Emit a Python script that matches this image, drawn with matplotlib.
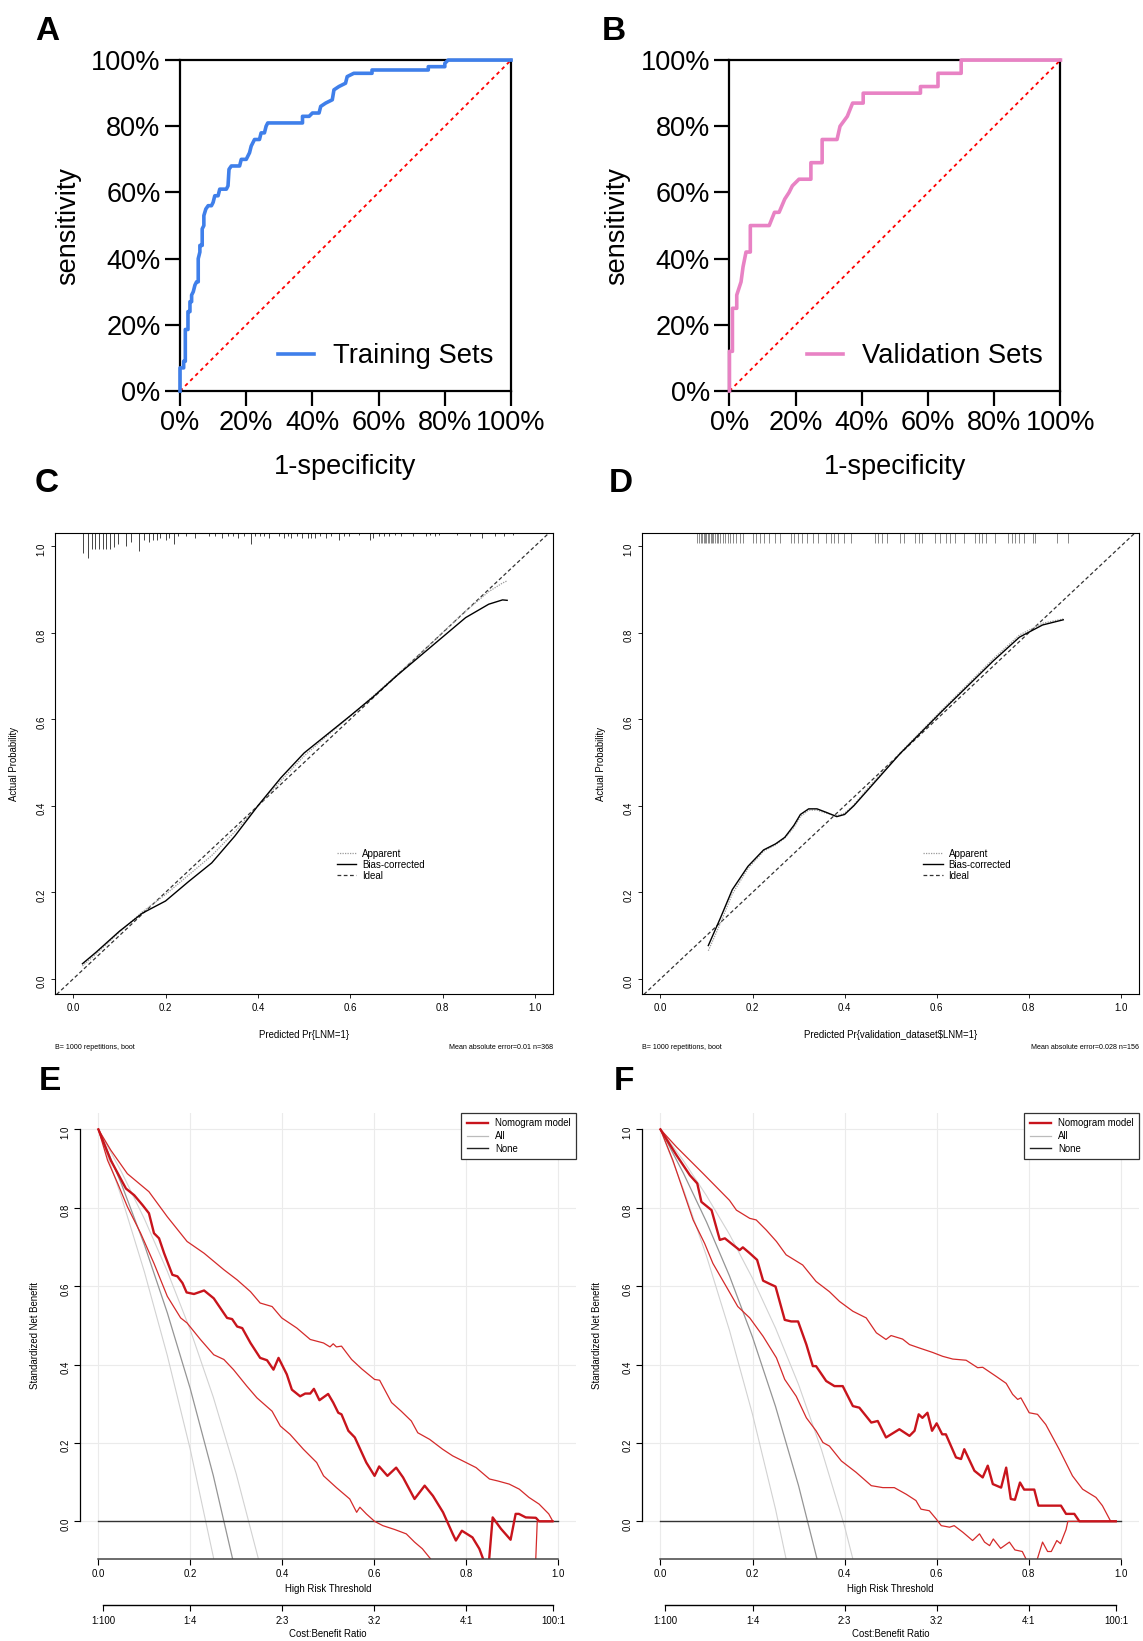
import numpy as np
import matplotlib.pyplot as plt
from matplotlib.lines import Line2D

plt.rcParams['font.family'] = ['Liberation Sans', 'DejaVu Sans']

# ---------------- ROC data (1-specificity, sensitivity) ----------------
roc_a_fpr = [0, 0, 0.011, 0.011, 0.016, 0.016, 0.024, 0.024, 0.03, 0.03, 0.035, 0.035, 0.04, 0.045, 0.05,
             0.055, 0.055, 0.06, 0.06, 0.067, 0.067, 0.072, 0.072, 0.078, 0.085, 0.095, 0.1, 0.105, 0.115, 0.12,
             0.14, 0.145, 0.148, 0.155, 0.18, 0.185, 0.2, 0.21, 0.215, 0.225, 0.24, 0.245, 0.255, 0.26, 0.265,
             0.37, 0.37, 0.39, 0.4, 0.42, 0.425, 0.44, 0.46, 0.465, 0.48, 0.5, 0.505, 0.525, 0.58, 0.58,
             0.75, 0.75, 0.8, 0.8, 0.81, 1.0]
roc_a_tpr = [0, 0.07, 0.07, 0.09, 0.09, 0.186, 0.186, 0.24, 0.24, 0.27, 0.27, 0.29, 0.30, 0.32, 0.33,
             0.33, 0.40, 0.42, 0.44, 0.44, 0.49, 0.50, 0.53, 0.55, 0.56, 0.56, 0.57, 0.59, 0.59, 0.61,
             0.61, 0.62, 0.67, 0.68, 0.68, 0.70, 0.70, 0.72, 0.74, 0.76, 0.76, 0.78, 0.78, 0.80, 0.81,
             0.81, 0.83, 0.83, 0.84, 0.84, 0.86, 0.87, 0.88, 0.91, 0.92, 0.93, 0.95, 0.96, 0.96, 0.97,
             0.97, 0.98, 0.98, 0.99, 1.0, 1.0]
roc_b_fpr = [0, 0, 0.009, 0.009, 0.022, 0.022, 0.035, 0.041, 0.05, 0.063, 0.063, 0.12, 0.136, 0.15, 0.167,
             0.18, 0.19, 0.21, 0.246, 0.246, 0.28, 0.28, 0.325, 0.334, 0.356, 0.372, 0.404, 0.404, 0.577, 0.577,
             0.63, 0.63, 0.70, 0.70, 1.0]
roc_b_tpr = [0, 0.12, 0.12, 0.25, 0.25, 0.29, 0.33, 0.375, 0.42, 0.42, 0.50, 0.50, 0.54, 0.54, 0.58,
             0.60, 0.62, 0.64, 0.64, 0.69, 0.69, 0.76, 0.76, 0.80, 0.83, 0.87, 0.87, 0.90, 0.90, 0.92,
             0.92, 0.96, 0.96, 1.0, 1.0]
pct_ticks = [0, 0.2, 0.4, 0.6, 0.8, 1.0]
pct_labels = ['0%', '20%', '40%', '60%', '80%', '100%']

# ---------------- calibration data ----------------
cal_c_x = [0.02, 0.05, 0.10, 0.15, 0.20, 0.25, 0.30, 0.35, 0.40, 0.45, 0.50, 0.55, 0.60, 0.65, 0.70,
           0.75, 0.80, 0.85, 0.90, 0.93, 0.94]
cal_c_bias = [0.035, 0.062, 0.11, 0.152, 0.18, 0.225, 0.268, 0.33, 0.40, 0.465, 0.522, 0.565, 0.608, 0.652,
              0.70, 0.745, 0.79, 0.835, 0.866, 0.876, 0.875]
cal_c_app = [0.03, 0.058, 0.108, 0.155, 0.195, 0.24, 0.285, 0.34, 0.40, 0.458, 0.515, 0.562, 0.607, 0.654,
             0.702, 0.75, 0.80, 0.85, 0.895, 0.915, 0.92]
rug_c_x = [0.022, 0.031, 0.041, 0.048, 0.056, 0.064, 0.072, 0.080, 0.088, 0.098, 0.114, 0.126, 0.143, 0.153,
           0.165, 0.173, 0.181, 0.189, 0.201, 0.208, 0.219, 0.228, 0.244, 0.264, 0.295, 0.307, 0.323, 0.335,
           0.346, 0.358, 0.370, 0.386, 0.394, 0.405, 0.413, 0.425, 0.445, 0.457, 0.465, 0.472, 0.484, 0.496,
           0.508, 0.516, 0.524, 0.535, 0.547, 0.559, 0.575, 0.587, 0.598, 0.618, 0.642, 0.650, 0.662, 0.673,
           0.685, 0.697, 0.709, 0.736, 0.764, 0.772, 0.784, 0.792, 0.831, 0.859, 0.886, 0.914, 0.933, 0.953]
rug_c_n = [11, 14, 9, 9, 9, 9, 9, 9, 8, 6, 7, 5, 10, 4, 5, 4, 4, 3, 4, 3, 6, 2, 2, 3, 2, 2, 3, 2, 2, 3,
           2, 6, 2, 2, 2, 3, 2, 3, 2, 3, 2, 3, 3, 3, 3, 2, 3, 2, 4, 2, 2, 1, 4, 3, 2, 2, 2, 1, 2, 2,
           2, 1, 2, 1, 1, 2, 3, 2, 2, 1]

cal_d_x = [0.104, 0.13, 0.156, 0.19, 0.224, 0.25, 0.27, 0.29, 0.304, 0.322, 0.34, 0.36, 0.383, 0.40, 0.42,
           0.45, 0.52, 0.61, 0.723, 0.78, 0.83, 0.875]
cal_d_bias = [0.077, 0.14, 0.206, 0.26, 0.298, 0.312, 0.327, 0.355, 0.38, 0.393, 0.393, 0.385, 0.375, 0.38,
              0.40, 0.436, 0.52, 0.617, 0.735, 0.79, 0.818, 0.83]
cal_d_app = [0.065, 0.128, 0.196, 0.255, 0.295, 0.31, 0.325, 0.35, 0.375, 0.39, 0.39, 0.383, 0.377, 0.383,
             0.402, 0.44, 0.522, 0.62, 0.74, 0.795, 0.822, 0.832]
rug_d_x = [0.080, 0.084, 0.088, 0.091, 0.094, 0.097, 0.100, 0.103, 0.106, 0.109, 0.112, 0.115, 0.118, 0.122,
           0.126, 0.130, 0.135, 0.140, 0.146, 0.152, 0.158, 0.165, 0.172, 0.180, 0.200, 0.208, 0.216, 0.224,
           0.236, 0.248, 0.260, 0.283, 0.291, 0.299, 0.307, 0.319, 0.331, 0.343, 0.359, 0.370, 0.378, 0.386,
           0.398, 0.414, 0.466, 0.473, 0.481, 0.493, 0.521, 0.529, 0.553, 0.561, 0.569, 0.596, 0.608, 0.620,
           0.628, 0.640, 0.660, 0.684, 0.692, 0.699, 0.707, 0.727, 0.755, 0.763, 0.771, 0.779, 0.790, 0.810,
           0.814, 0.862, 0.885]

# ---------------- decision curve data ----------------
all_e_t = [0.0, 0.05, 0.10, 0.15, 0.20, 0.25, 0.30, 0.35]
all_e_mid = [1.0, 0.861, 0.706, 0.532, 0.338, 0.117, -0.136, -0.43]
all_e_lo = [1.0, 0.828, 0.637, 0.423, 0.183, -0.09, -0.40, -0.76]
all_e_hi = [1.0, 0.892, 0.772, 0.638, 0.488, 0.317, 0.121, -0.104]

nb_e_x = [0, 0.027, 0.06, 0.078, 0.096, 0.11, 0.121, 0.132, 0.143, 0.161, 0.172, 0.183, 0.192, 0.208, 0.23,
          0.251, 0.273, 0.28, 0.291, 0.302, 0.313, 0.331, 0.352, 0.367, 0.381, 0.392, 0.41, 0.421, 0.439, 0.45,
          0.461, 0.469, 0.481, 0.5, 0.511, 0.522, 0.529, 0.544, 0.558, 0.583, 0.601, 0.611, 0.629, 0.648, 0.663,
          0.688, 0.71, 0.728, 0.75, 0.771, 0.778, 0.791, 0.814, 0.829, 0.848, 0.858, 0.876, 0.897, 0.908, 0.915,
          0.93, 0.952, 0.959, 0.988]
nb_e_y = [1.0, 0.921, 0.849, 0.832, 0.807, 0.786, 0.735, 0.722, 0.684, 0.629, 0.625, 0.608, 0.584, 0.58, 0.589,
          0.569, 0.531, 0.519, 0.516, 0.497, 0.493, 0.455, 0.417, 0.411, 0.387, 0.417, 0.375, 0.336, 0.319, 0.326,
          0.326, 0.338, 0.309, 0.325, 0.303, 0.277, 0.273, 0.231, 0.214, 0.15, 0.116, 0.14, 0.116, 0.137, 0.112,
          0.057, 0.091, 0.065, 0.023, -0.032, -0.049, -0.024, -0.041, -0.07, -0.13, 0.01, -0.019, -0.047, 0.019,
          0.019, 0.01, 0.009, 0.0, 0.0]
hi_e_x = [0, 0.027, 0.063, 0.11, 0.15, 0.193, 0.23, 0.273, 0.302, 0.331, 0.352, 0.378, 0.399, 0.432, 0.461,
          0.49, 0.504, 0.511, 0.518, 0.529, 0.551, 0.573, 0.601, 0.612, 0.638, 0.659, 0.681, 0.695, 0.721, 0.749,
          0.771, 0.8, 0.822, 0.851, 0.869, 0.894, 0.916, 0.937, 0.959, 0.98, 0.989]
hi_e_y = [1.0, 0.947, 0.887, 0.841, 0.777, 0.714, 0.684, 0.642, 0.616, 0.586, 0.557, 0.548, 0.519, 0.493, 0.464,
          0.455, 0.445, 0.453, 0.445, 0.447, 0.413, 0.389, 0.362, 0.36, 0.303, 0.281, 0.256, 0.226, 0.209, 0.184,
          0.167, 0.15, 0.137, 0.108, 0.103, 0.095, 0.082, 0.061, 0.044, 0.019, 0.0]
lo_e_x = [0, 0.02, 0.042, 0.063, 0.092, 0.121, 0.15, 0.179, 0.193, 0.222, 0.251, 0.273, 0.294, 0.323, 0.345,
          0.378, 0.396, 0.417, 0.446, 0.475, 0.49, 0.518, 0.547, 0.562, 0.569, 0.583, 0.601, 0.619, 0.645, 0.67,
          0.688, 0.705, 0.723, 0.73, 0.95, 0.955, 0.99]
lo_e_y = [1.0, 0.921, 0.862, 0.803, 0.735, 0.658, 0.574, 0.519, 0.506, 0.464, 0.425, 0.413, 0.387, 0.345, 0.315,
          0.281, 0.243, 0.222, 0.184, 0.15, 0.116, 0.086, 0.057, 0.023, 0.036, 0.019, 0.0, -0.011, -0.021, -0.032,
          -0.053, -0.07, -0.096, -0.15, -0.15, 0.0, 0.0]

all_f_t = [0.0, 0.05, 0.10, 0.15, 0.20, 0.25, 0.30, 0.35, 0.40, 0.45]
all_f_mid = [1.0, 0.888, 0.764, 0.626, 0.47, 0.293, 0.091, -0.142, -0.413, -0.735]
all_f_lo = [1.0, 0.847, 0.677, 0.487, 0.273, 0.031, -0.246, -0.566, -0.939, -1.38]
all_f_hi = [1.0, 0.92, 0.831, 0.732, 0.62, 0.493, 0.349, 0.182, -0.013, -0.244]

nb_f_x = [0, 0.035, 0.064, 0.08, 0.089, 0.111, 0.129, 0.14, 0.158, 0.172, 0.179, 0.194, 0.21, 0.223, 0.237,
          0.25, 0.27, 0.284, 0.299, 0.317, 0.331, 0.338, 0.36, 0.378, 0.396, 0.418, 0.432, 0.458, 0.472, 0.49,
          0.519, 0.541, 0.552, 0.561, 0.569, 0.58, 0.59, 0.6, 0.612, 0.62, 0.642, 0.653, 0.66, 0.682, 0.7,
          0.711, 0.722, 0.74, 0.751, 0.761, 0.77, 0.781, 0.79, 0.812, 0.821, 0.87, 0.881, 0.899, 0.91, 0.989]
nb_f_y = [1.0, 0.934, 0.883, 0.862, 0.815, 0.794, 0.718, 0.722, 0.705, 0.692, 0.699, 0.684, 0.667, 0.614, 0.606,
          0.599, 0.514, 0.51, 0.51, 0.451, 0.396, 0.396, 0.358, 0.345, 0.345, 0.294, 0.29, 0.252, 0.256, 0.214,
          0.235, 0.218, 0.231, 0.273, 0.264, 0.277, 0.231, 0.25, 0.222, 0.222, 0.163, 0.159, 0.184, 0.129, 0.112,
          0.142, 0.095, 0.086, 0.137, 0.057, 0.055, 0.099, 0.081, 0.081, 0.04, 0.04, 0.019, 0.019, 0.0, 0.0]
hi_f_x = [0, 0.035, 0.093, 0.15, 0.165, 0.194, 0.208, 0.23, 0.252, 0.273, 0.309, 0.338, 0.367, 0.389, 0.418,
          0.447, 0.469, 0.49, 0.501, 0.526, 0.541, 0.563, 0.591, 0.613, 0.635, 0.664, 0.689, 0.7, 0.729, 0.751,
          0.765, 0.776, 0.783, 0.801, 0.819, 0.837, 0.866, 0.895, 0.917, 0.946, 0.96, 0.978, 0.989]
hi_f_y = [1.0, 0.955, 0.887, 0.819, 0.794, 0.773, 0.769, 0.743, 0.714, 0.68, 0.654, 0.612, 0.586, 0.561, 0.536,
          0.519, 0.481, 0.464, 0.474, 0.465, 0.451, 0.442, 0.431, 0.421, 0.414, 0.411, 0.392, 0.393, 0.37, 0.352,
          0.324, 0.311, 0.315, 0.277, 0.273, 0.247, 0.184, 0.116, 0.082, 0.061, 0.04, 0.0, 0.0]
lo_f_x = [0, 0.027, 0.049, 0.071, 0.096, 0.114, 0.143, 0.168, 0.194, 0.223, 0.252, 0.27, 0.295, 0.317, 0.338,
          0.353, 0.367, 0.393, 0.425, 0.458, 0.483, 0.508, 0.534, 0.555, 0.566, 0.584, 0.599, 0.61, 0.628, 0.638,
          0.657, 0.678, 0.693, 0.704, 0.715, 0.723, 0.739, 0.758, 0.77, 0.786, 0.8, 0.815, 0.83, 0.841, 0.849,
          0.861, 0.869, 0.881, 0.885, 0.99]
lo_f_y = [1.0, 0.921, 0.845, 0.769, 0.709, 0.658, 0.599, 0.548, 0.519, 0.472, 0.417, 0.362, 0.319, 0.264, 0.231,
          0.201, 0.192, 0.154, 0.125, 0.091, 0.086, 0.086, 0.069, 0.053, 0.031, 0.027, 0.006, -0.011, -0.015, -0.011,
          -0.028, -0.049, -0.032, -0.053, -0.062, -0.045, -0.069, -0.053, -0.073, -0.077, -0.11, -0.11, -0.053,
          -0.077, -0.077, -0.049, -0.057, -0.021, 0.0, 0.0]

dec_ticks = [0.0, 0.2, 0.4, 0.6, 0.8, 1.0]
dec_labels = ['0.0', '0.2', '0.4', '0.6', '0.8', '1.0']
cb_pos = [0.0099, 0.2, 0.4, 0.6, 0.8, 0.990]
cb_labels = ['1:100', '1:4', '2:3', '3:2', '4:1', '100:1']

SMALL = 6.9
TICK = 6.9
RED = '#c8141c'


def roc_panel(ax, fpr, tpr, color, label):
    ax.plot([0, 1], [0, 1], color='red', ls=(0, (2, 2)), lw=1.3)
    ax.plot(fpr, tpr, color=color, lw=2.6, label=label, clip_on=False, zorder=3)
    ax.set_xlim(0, 1)
    ax.set_ylim(0, 1)
    ax.set_xticks(pct_ticks, pct_labels)
    ax.set_yticks(pct_ticks, pct_labels)
    ax.tick_params(length=11, width=1.6, labelsize=19.5, pad=3)
    for s in ax.spines.values():
        s.set_linewidth(1.6)
    ax.set_xlabel('1-specificity', fontsize=19.5)
    ax.set_ylabel('sensitivity', fontsize=19.5)
    ax.xaxis.set_label_coords(0.5, -0.19)
    ax.yaxis.set_label_coords(-0.30, 0.5)
    ax.legend(loc='center right', bbox_to_anchor=(1.0, 0.105), frameon=False, fontsize=19.7,
              handlelength=1.3, handletextpad=0.7, borderaxespad=0.25)


def cal_panel(ax, x, app, bias, rug_x, rug_len, rug_col, xlabel, mae):
    top = 1.031
    ax.set_xlim(-0.04, 1.04)
    ax.set_ylim(-0.036, top)
    ax.axline((0, 0), (1, 1), color='#333333', ls=(0, (3, 2)), lw=0.9, label='Ideal')
    ax.plot(x, app, color='#9a9a9a', ls=(0, (1, 1)), lw=0.9, label='Apparent')
    ax.plot(x, bias, color='black', lw=1.0, label='Bias-corrected')
    ax.vlines(rug_x, top - np.asarray(rug_len), top, color=rug_col, lw=0.7)
    ax.set_xticks(dec_ticks, dec_labels)
    ax.set_yticks(dec_ticks, dec_labels)
    ax.tick_params(length=3, width=0.6, labelsize=TICK, pad=3)
    ax.tick_params(axis='y', labelrotation=90)
    for s in ax.spines.values():
        s.set_linewidth(0.8)
    ax.set_xlabel(xlabel, fontsize=SMALL)
    ax.set_ylabel('Actual Probability', fontsize=SMALL)
    ax.xaxis.set_label_coords(0.5, -0.078)
    ax.yaxis.set_label_coords(-0.072, 0.5)
    ax.text(0, -0.116, 'B= 1000 repetitions, boot', transform=ax.transAxes, fontsize=5.1, va='center')
    ax.text(1, -0.116, mae, transform=ax.transAxes, fontsize=5.1, va='center', ha='right')
    h, l = ax.get_legend_handles_labels()
    order = [l.index('Apparent'), l.index('Bias-corrected'), l.index('Ideal')]
    ax.legend([h[i] for i in order], [l[i] for i in order], loc='upper left', bbox_to_anchor=(0.548, 0.335),
              frameon=False, fontsize=7.0, handlelength=2.0, labelspacing=0.12, handletextpad=0.6)


def dca_panel(ax, t_all, a_mid, a_lo, a_hi, nbx, nby, lox, loy, hix, hiy):
    ax.set_xlim(-0.04, 1.04)
    ax.set_ylim(-0.096, 1.042)
    for v in dec_ticks:
        ax.axvline(v, color='#ebebeb', lw=0.8, zorder=0)
        ax.axhline(v, color='#ebebeb', lw=0.8, zorder=0)
    ax.plot(t_all, a_lo, color='#d2d2d2', lw=0.8)
    ax.plot(t_all, a_hi, color='#d2d2d2', lw=0.8)
    ax.plot(t_all, a_mid, color='#959595', lw=0.9)
    ax.plot([0, 1], [0, 0], color='#333333', lw=1.0)
    ax.plot(lox, loy, color='#d42a2a', lw=0.9)
    ax.plot(hix, hiy, color='#d42a2a', lw=0.9)
    ax.plot(nbx, nby, color=RED, lw=1.7)
    for s in ['top', 'right']:
        ax.spines[s].set_visible(False)
    ax.spines['left'].set_bounds(0, 1)
    ax.spines['bottom'].set_bounds(0, 1)
    ax.spines['left'].set_linewidth(0.9)
    ax.spines['bottom'].set_linewidth(1.1)
    ax.spines['bottom'].set_color('#444444')
    ax.set_xticks(dec_ticks, dec_labels)
    ax.set_yticks(dec_ticks, dec_labels)
    ax.tick_params(length=4, width=0.8, labelsize=TICK, pad=3)
    ax.tick_params(axis='y', labelrotation=90)
    ax.set_xlabel('High Risk Threshold', fontsize=SMALL)
    ax.set_ylabel('Standardized Net Benefit', fontsize=SMALL)
    ax.xaxis.set_label_coords(0.5, -0.056)
    ax.yaxis.set_label_coords(-0.08, 0.5)
    handles = [Line2D([], [], color=RED, lw=1.7), Line2D([], [], color='#bbbbbb', lw=0.9),
               Line2D([], [], color='#222222', lw=1.0)]
    leg = ax.legend(handles, ['Nomogram model', 'All', 'None'], loc='upper right', bbox_to_anchor=(1, 1),
                    borderaxespad=0, fontsize=SMALL, fancybox=False, edgecolor='#333333',
                    handlelength=2.2, labelspacing=0.28, borderpad=0.55, framealpha=1)
    leg.get_frame().set_linewidth(0.9)
    sec = ax.secondary_xaxis(-0.1025)
    sec.set_xticks(cb_pos, cb_labels)
    sec.spines['bottom'].set_bounds(cb_pos[0], cb_pos[-1])
    sec.spines['bottom'].set_linewidth(1.0)
    sec.tick_params(length=4, width=0.8, labelsize=TICK, pad=4)
    sec.set_xlabel('Cost:Benefit Ratio', fontsize=SMALL, labelpad=2)


fig = plt.figure(figsize=(11.43, 16.41), dpi=100)

ax_a = fig.add_axes([0.1575, 0.7617, 0.2896, 0.2017])
roc_panel(ax_a, roc_a_fpr, roc_a_tpr, '#3f7fea', 'Training Sets')
ax_b = fig.add_axes([0.6382, 0.7617, 0.2896, 0.2017])
roc_panel(ax_b, roc_b_fpr, roc_b_tpr, '#e882c4', 'Validation Sets')

ax_c = fig.add_axes([0.0479, 0.394, 0.4362, 0.2813])
cal_panel(ax_c, cal_c_x, cal_c_app, cal_c_bias, rug_c_x, np.asarray(rug_c_n) * 0.0042, '#444444',
          'Predicted Pr{LNM=1}', 'Mean absolute error=0.01 n=368')
ax_d = fig.add_axes([0.5617, 0.394, 0.4350, 0.2813])
cal_panel(ax_d, cal_d_x, cal_d_app, cal_d_bias, rug_d_x, [0.024] * len(rug_d_x), '#8a8a8a',
          'Predicted Pr{validation_dataset$LNM=1}', 'Mean absolute error=0.028 n=156')

ax_e = fig.add_axes([0.070, 0.050, 0.4342, 0.2718])
dca_panel(ax_e, all_e_t, all_e_mid, all_e_lo, all_e_hi, nb_e_x, nb_e_y, lo_e_x, lo_e_y, hi_e_x, hi_e_y)
ax_f = fig.add_axes([0.5617, 0.050, 0.4350, 0.2718])
dca_panel(ax_f, all_f_t, all_f_mid, all_f_lo, all_f_hi, nb_f_x, nb_f_y, lo_f_x, lo_f_y, hi_f_x, hi_f_y)

for letter, fx, fy in [('A', 47, 32), ('B', 614, 32), ('C', 47, 484), ('D', 621, 484),
                       ('E', 50, 1081), ('F', 624, 1081)]:
    fig.text(fx / 1143, 1 - fy / 1641, letter, fontsize=24, fontweight='bold', ha='center', va='center')

fig.savefig('out.png', dpi=100)
